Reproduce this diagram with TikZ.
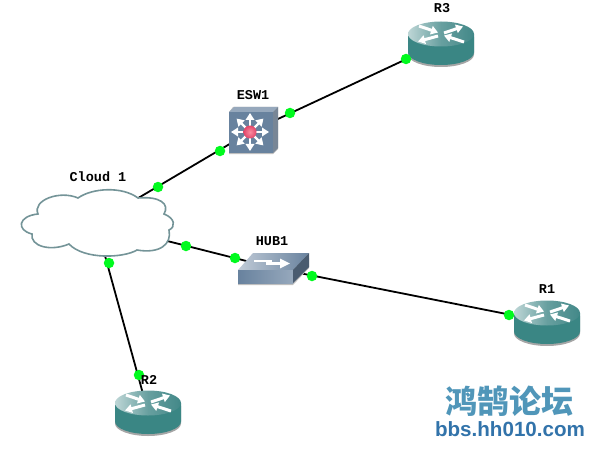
\documentclass[tikz,border=0pt]{standalone}
\usepackage{fontspec}
\setmainfont{Liberation Sans}
\newfontfamily\labelfont[Scale=1]{Liberation Mono}
\newfontfamily\cjkfont{Noto Sans CJK SC}
\usetikzlibrary{arrows.meta}
\definecolor{routertop}{RGB}{66,136,136}
\definecolor{routerlight}{RGB}{190,214,214}
\definecolor{routerside}{RGB}{58,134,132}
\definecolor{cloudline}{RGB}{116,148,152}
\definecolor{swfront}{RGB}{104,130,158}
\definecolor{swside}{RGB}{150,168,188}
\definecolor{portgreen}{RGB}{0,250,30}
\definecolor{markteal}{RGB}{80,150,185}
\definecolor{markblue}{RGB}{50,115,170}
\definecolor{ballred}{RGB}{225,70,105}
\definecolor{ballpink}{RGB}{250,140,160}
\tikzset{
    device/.style={inner sep=0pt},
    routernode/.style={device,minimum width=40pt,minimum height=24pt},
    switchnode/.style={device,minimum width=30pt,minimum height=30pt},
    hubnode/.style={device,minimum width=40pt,minimum height=18pt},
    cloudnode/.style={device,minimum width=100pt,minimum height=40pt},
    port/.style={circle,fill=portgreen,inner sep=0pt,minimum size=10.5pt},
    devlabel/.style={font=\labelfont\bfseries\fontsize{13.5}{14}\selectfont,inner sep=0pt},
    link/.style={line width=1.8pt,black},
    whitearrow/.style={white,line width=3pt,-{Triangle[length=7pt,width=8.5pt]}},
    router/.pic={
        \fill[black!35] (-33,-6) -- (-33,11.5) arc[x radius=33,y radius=12.5,start angle=180,end angle=0] -- (33,-6) -- cycle;
        \fill[routerside] (-33,-9) -- (-33,9.5) arc[x radius=33,y radius=12.5,start angle=180,end angle=0] -- (33,-9) -- cycle;
        \shade[left color=routerlight,right color=routertop,middle color=routertop!70!routerlight] (0,-9) ellipse (33 and 12.5);
        \draw[whitearrow] (-22,-17) -- (-3,-10.5);
        \draw[whitearrow] (3,-10) -- (22,-16.5);
        \draw[whitearrow] (-3,-7) -- (-23,-1.5);
        \draw[whitearrow] (23,-1) -- (3,-7.5);
    },
    esw/.pic={
        \fill[black!25] (-17,-25) -- (28,-25) -- (28,17) -- (23,22) -- (-21,22) -- (-21,-20) -- cycle;
        \fill[swside] (-21,-20) -- (-16,-25) -- (28,-25) -- (23,-20) -- cycle;
        \fill[swside!80!black] (23,-20) -- (28,-25) -- (28,16) -- (23,21) -- cycle;
        \fill[swfront] (-21,-20) rectangle (23,21);
        \foreach \ang in {0,45,...,315}
            \draw[whitearrow,line width=2.2pt] (\ang:6) -- (\ang:19);
        \shade[inner color=ballpink,outer color=ballred] (0,0) circle (6.5);
    },
    hub/.pic={
        \fill[black!25] (-36,4) -- (-36,17) -- (19,17) -- (35,0) -- (35,-10) -- cycle;
        \shade[left color=swside!60!white,right color=swfront] (-21,-15) -- (35,-15) -- (19,2) -- (-36,2) -- cycle;
        \shade[left color=swfront,right color=swside] (-36,2) rectangle (19,15);
        \fill[swfront!70!black] (19,2) -- (35,-15) -- (35,-1) -- (19,15) -- cycle;
        \draw[white,line width=2pt] (-20,-7.5) -- (-2,-7.5);
        \draw[white,line width=2.4pt,-{Triangle[length=10pt,width=9pt]}] (-8,-4.5) -- (16,-4.5);
    },
}
\begin{document}
\begin{tikzpicture}[x=1pt,y=-1pt]
    \useasboundingbox (0,0) rectangle (601,457);

    % device positions
    \node[routernode] (R3) at (441,43) {};
    \node[switchnode] (ESW1) at (250,132) {};
    \node[cloudnode] (Cloud1) at (96,223) {};
    \node[hubnode] (HUB1) at (274,268) {};
    \node[routernode] (R1) at (547,322) {};
    \node[routernode] (R2) at (148,412) {};

    % links
    \draw[link] (R3) -- (ESW1);
    \draw[link] (ESW1) -- (Cloud1);
    \draw[link] (Cloud1) -- (HUB1);
    \draw[link] (HUB1) -- (R1);
    \draw[link] (Cloud1) -- (R2);

    % icons
    \pic at (R3) {router};
    \pic at (R1) {router};
    \pic at (R2) {router};
    \pic at (ESW1) {esw};
    \pic at (HUB1) {hub};
    \draw[cloudline,line width=1.6pt,fill=white] (78,198)
        .. controls (92,188) and (122,186) .. (138,198)
        .. controls (160,196) and (170,204) .. (164,214)
        .. controls (175,218) and (176,227) .. (169,230)
        .. controls (172,244) and (160,254) .. (137,250)
        .. controls (124,258) and (84,260) .. (69,244)
        .. controls (50,252) and (30,246) .. (32,234)
        .. controls (16,230) and (18,216) .. (38,214)
        .. controls (32,200) and (60,190) .. (78,198) -- cycle;

    % ports
    \node[port] (p1) at (406,59) {};
    \node[port] (p2) at (290,113) {};
    \node[port] (p3) at (220,151) {};
    \node[port] (p4) at (158,187) {};
    \node[port] (p5) at (186,246) {};
    \node[port] (p6) at (235,258) {};
    \node[port] (p7) at (312,276) {};
    \node[port] (p8) at (509,315) {};
    \node[port] (p9) at (109,263) {};
    \node[port] (p10) at (139,375) {};

    % names
    \node[devlabel] (lR3) at (442,8) {R3};
    \node[devlabel] (lESW1) at (253,95) {ESW1};
    \node[devlabel] (lCloud1) at (98,177) {Cloud 1};
    \node[devlabel] (lHUB1) at (272,241) {HUB1};
    \node[devlabel] (lR1) at (547,289) {R1};
    \node[devlabel] (lR2) at (149,380) {R2};

    % site mark
    \node[inner sep=0pt,text=markteal,font=\cjkfont\bfseries\fontsize{32}{34}\selectfont] (mark) at (509,401) {鸿鹄论坛};
    \node[inner sep=0pt,text=markblue,font=\bfseries\fontsize{20.6}{21}\selectfont] (site) at (510,429) {bbs.hh010.com};
\end{tikzpicture}
\end{document}
